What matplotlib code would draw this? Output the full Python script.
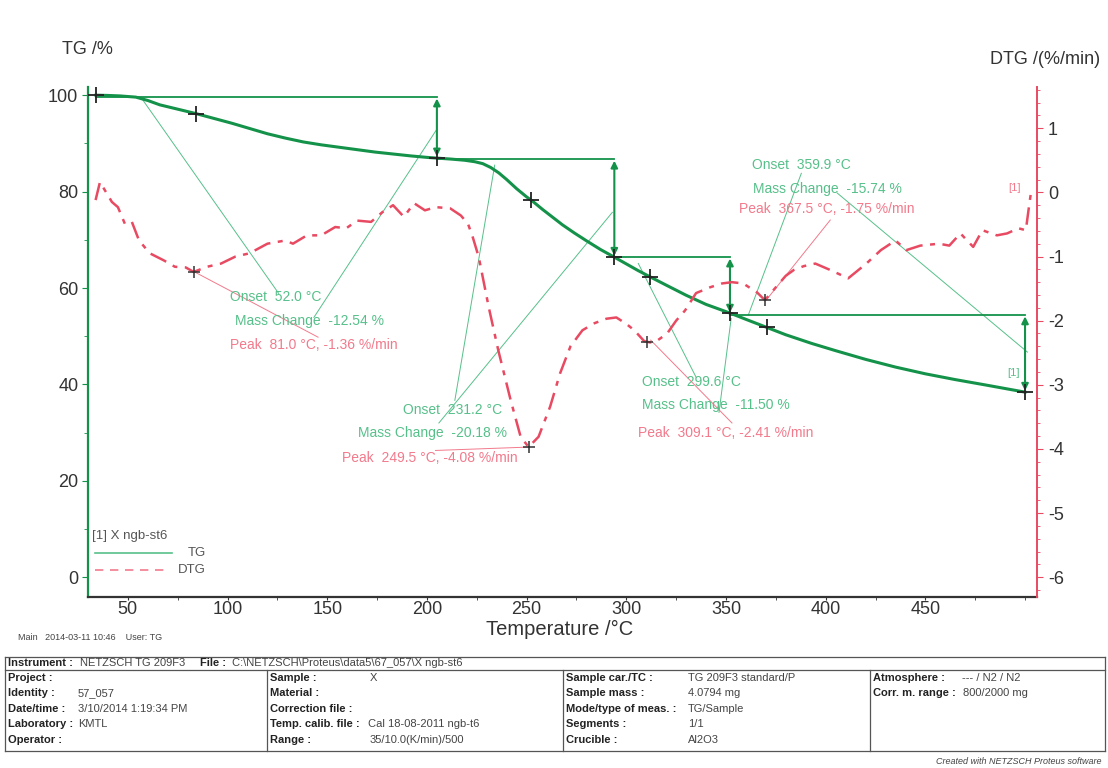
import matplotlib
matplotlib.use("Agg")
import matplotlib.pyplot as plt
from matplotlib.ticker import MultipleLocator
from matplotlib.lines import Line2D

plt.rcParams['font.family'] = ['Liberation Sans', 'DejaVu Sans']
plt.rcParams['axes.unicode_minus'] = False

# ---------------- data ----------------
tg_temp = [34, 40, 46, 54, 60, 66, 75, 84, 93, 102, 111, 120, 129, 138, 147, 156, 165, 174,
           183, 192, 200, 205, 212, 219, 224, 228, 232, 236, 240, 245, 250, 253, 258, 263,
           268, 274, 280, 287, 294, 300, 306, 312, 320, 330, 340, 352, 360, 370, 380, 393,
           405, 420, 435, 450, 465, 480, 492, 500]
tg_val = [100.0, 99.95, 99.85, 99.6, 98.9, 98.0, 97.1, 96.2, 95.2, 94.2, 93.1, 92.0, 91.1,
          90.3, 89.7, 89.2, 88.7, 88.2, 87.8, 87.4, 87.1, 86.95, 86.75, 86.5, 86.2, 85.8,
          85.0, 83.9, 82.5, 80.6, 78.9, 78.0, 76.3, 74.7, 73.1, 71.4, 69.8, 68.0, 66.4,
          65.0, 63.6, 62.3, 60.6, 58.5, 56.6, 54.8, 53.5, 51.9, 50.3, 48.5, 47.0, 45.2,
          43.6, 42.2, 41.0, 39.9, 39.0, 38.4]

dtg_temp = [33.8, 36, 39.5, 42, 45, 48.5, 52, 55.6, 61, 68, 73.6, 79, 83, 89.7, 96.7, 104,
            111, 120, 129, 132.8, 139.8, 147, 154, 159.5, 165, 172, 177.6, 183, 188.4, 193.6,
            199, 204.5, 211.7, 217, 220.6, 223, 226, 231, 235.7, 242, 247, 251, 256, 261.8,
            266.8, 272, 278, 284, 290, 295, 300, 304, 309, 312, 316, 320.5, 325, 329.5, 335,
            342, 348, 353, 358.6, 365.6, 369.5, 375, 380, 384, 389, 394.8, 402.3, 411.3,
            420.4, 427.7, 435, 440.5, 447.5, 456.8, 462, 467.6, 474, 478.6, 485.9, 491,
            496.7, 500.4, 502.2, 503]
dtg_val = [-0.12, 0.16, -0.02, -0.15, -0.23, -0.49, -0.46, -0.75, -0.95, -1.06, -1.16, -1.17,
           -1.24, -1.16, -1.11, -1.0, -0.95, -0.8, -0.75, -0.8, -0.67, -0.67, -0.54, -0.56,
           -0.44, -0.46, -0.31, -0.2, -0.38, -0.17, -0.28, -0.23, -0.25, -0.36, -0.49, -0.7,
           -1.01, -1.79, -2.45, -3.24, -3.81, -3.97, -3.81, -3.34, -2.82, -2.4, -2.15, -2.04,
           -1.97, -1.95, -2.05, -2.15, -2.32, -2.34, -2.3, -2.2, -2.0, -1.84, -1.57, -1.48,
           -1.42, -1.4, -1.42, -1.56, -1.68, -1.48, -1.3, -1.21, -1.15, -1.11, -1.21, -1.34,
           -1.11, -0.9, -0.75, -0.9, -0.83, -0.8, -0.83, -0.64, -0.85, -0.59, -0.67, -0.64,
           -0.56, -0.59, -0.17, 0.0]

# marked TG points (crosses)
tg_mark_temp = [34, 84, 205, 252, 294, 312, 352, 370.5, 500]
tg_mark_val = [100.0, 96.2, 86.95, 78.3, 66.4, 62.3, 54.8, 51.9, 38.4]
# DTG peaks (crosses)
dtg_peak_temp = [83, 251, 310.5, 369.5]
dtg_peak_val = [-1.24, -3.97, -2.34, -1.68]

# mass-change steps
step_temp = [205, 294, 352, 500]
step_start = [34, 205, 294, 352]
step_upper = [99.6, 86.7, 66.4, 54.4]
step_lower = [87.0, 66.4, 54.6, 38.4]

onset_txt = ["Onset  52.0 °C", "Onset  231.2 °C", "Onset  299.6 °C", "Onset  359.9 °C"]
mass_txt = ["Mass Change  -12.54 %", "Mass Change  -20.18 %", "Mass Change  -11.50 %",
            "Mass Change  -15.74 %"]
peak_txt = ["Peak  81.0 °C, -1.36 %/min", "Peak  249.5 °C, -4.08 %/min",
            "Peak  309.1 °C, -2.41 %/min", "Peak  367.5 °C, -1.75 %/min"]

x_ticks = [50, 100, 150, 200, 250, 300, 350, 400, 450]
tg_ticks = [0, 20, 40, 60, 80, 100]
dtg_ticks = [-6, -5, -4, -3, -2, -1, 0, 1]

# ---------------- styles ----------------
GREEN = "#14924a"
LGREEN = "#56c08a"
RED = "#e84a62"
LRED = "#f27a8c"

fig = plt.figure(figsize=(11.08, 7.68), dpi=100)
W, H = 1108, 768
L, R, T, B = 88, 1037, 87, 597
ax1 = fig.add_axes([L / W, 1 - B / H, (R - L) / W, (B - T) / H])
ax2 = ax1.twinx()

xlim = (30, 506)
tg_lim = (-4.1, 101.7)
def tg2dtg(v):
    return -6 + v * 0.07515
ax1.set_xlim(*xlim)
ax1.set_ylim(*tg_lim)
ax2.set_ylim(tg2dtg(tg_lim[0]), tg2dtg(tg_lim[1]))

# curves
ax1.plot(tg_temp, tg_val, color=GREEN, lw=2.2, zorder=5)
ax2.plot(dtg_temp, dtg_val, color=RED, lw=1.8, linestyle=(0, (7, 3, 2, 3)), zorder=5)

# crosses
ax1.plot(tg_mark_temp, tg_mark_val, '+', color='#222222', ms=11, mew=1.3, zorder=7)
ax2.plot(dtg_peak_temp, dtg_peak_val, '+', color='#333333', ms=9, mew=1.1, zorder=7)

# steps
for i in range(4):
    ax1.plot([step_start[i], step_temp[i]], [step_upper[i], step_upper[i]], color=GREEN,
             lw=1.3, zorder=4)
    ax1.annotate("", xy=(step_temp[i], step_lower[i]), xytext=(step_temp[i], step_upper[i]),
                 arrowprops=dict(arrowstyle='<|-|>', color=GREEN, lw=1.5,
                                 mutation_scale=10, shrinkA=1, shrinkB=1), zorder=6)

# leader lines (T, TG)
green_leaders = [((57.5, 99.0), (125.6, 58.9)), ((204.6, 92.7), (143.3, 53.9)),
                 ((234, 85.5), (214, 36.7)), ((293, 75.7), (206, 32.0)),
                 ((306, 65.1), (335, 41.5)), ((352.6, 53.7), (346.5, 34.2)),
                 ((387.8, 83.8), (361.2, 54.4)), ((405.8, 79.7), (501.2, 46.7))]
red_leaders = [((83.6, 63.3), (145.4, 49.8)), ((251, 27.0), (204.3, 26.3)),
               ((312.2, 49.2), (353, 32.0)), ((402.3, 74.1), (370.2, 57.5))]
for (a, b) in green_leaders:
    ax1.plot([a[0], b[0]], [a[1], b[1]], color=LGREEN, lw=0.7, zorder=3)
for (a, b) in red_leaders:
    ax1.plot([a[0], b[0]], [a[1], b[1]], color=LRED, lw=0.7, zorder=3)

# annotation texts (T, TG)
onset_pos = [(101.2, 58.1), (188, 34.6), (308, 40.5), (363.2, 85.5)]
mass_pos = [(103.7, 53.1), (165.4, 29.9), (308, 35.7), (363.7, 80.5)]
peak_pos = [(101.2, 48.1), (157.4, 24.7), (306, 29.9), (356.6, 76.3)]
for i in range(4):
    ax1.text(*onset_pos[i], onset_txt[i], color=LGREEN, fontsize=10, va='center', zorder=8)
    ax1.text(*mass_pos[i], mass_txt[i], color=LGREEN, fontsize=10, va='center', zorder=8)
    ax1.text(*peak_pos[i], peak_txt[i], color=LRED, fontsize=10, va='center', zorder=8)
ax1.text(497.7, 80.8, "[1]", color=LRED, fontsize=8, ha='right', va='center')
ax1.text(497.5, 42.3, "[1]", color=LGREEN, fontsize=8, ha='right', va='center')

# axes styling
for s in ['top', 'right']:
    ax1.spines[s].set_visible(False)
ax1.spines['left'].set_color(GREEN)
ax1.spines['left'].set_linewidth(1.6)
ax1.spines['bottom'].set_color('#333333')
ax1.spines['bottom'].set_linewidth(1.6)
for s in ['top', 'left', 'bottom']:
    ax2.spines[s].set_visible(False)
ax2.spines['right'].set_color(RED)
ax2.spines['right'].set_linewidth(1.4)

ax1.set_xticks(x_ticks)
ax1.xaxis.set_minor_locator(MultipleLocator(25))
ax1.set_yticks(tg_ticks)
ax1.yaxis.set_minor_locator(MultipleLocator(10))
ax2.set_yticks(dtg_ticks)
ax2.yaxis.set_minor_locator(MultipleLocator(0.2))
ax1.tick_params(axis='x', labelsize=13, colors='#333333', length=2, pad=1)
ax1.tick_params(axis='x', which='minor', length=2, colors='#333333')
ax1.tick_params(axis='y', labelsize=13, colors='#333333', length=4, pad=3)
ax1.tick_params(axis='y', which='minor', length=3, color=GREEN)
ax1.tick_params(axis='y', which='major', color=GREEN)
ax2.tick_params(axis='y', labelsize=13, labelcolor='#333333', color=RED, length=4, pad=4)
ax2.tick_params(axis='y', which='minor', length=2.5, color=RED)

fig.text(62 / W, 1 - 50 / H, "TG /%", fontsize=13, color='#333333', va='center')
fig.text(1100 / W, 1 - 60 / H, "DTG /(%/min)", fontsize=13, color='#333333', va='center',
         ha='right')
fig.text(560 / W, 1 - 629 / H, "Temperature /°C", fontsize=14.5, color='#333333',
         va='center', ha='center')

# legend (axes coords)
def axc(x, y):
    return ((x - L) / (R - L), (B - y) / (B - T))
ax1.text(*axc(92, 536), "[1] X ngb-st6", transform=ax1.transAxes, fontsize=9.5,
         color='#555555', va='center')
x0, y0 = axc(95, 553)
x1, _ = axc(172, 553)
ax1.add_line(Line2D([x0, x1], [y0, y0], transform=ax1.transAxes, color=LGREEN, lw=1.2))
ax1.text(*axc(188, 553), "TG", transform=ax1.transAxes, fontsize=9.5, color='#555555',
         va='center')
x0, y0 = axc(95, 570)
x1, _ = axc(168, 570)
ax1.add_line(Line2D([x0, x1], [y0, y0], transform=ax1.transAxes, color=LRED, lw=1.2,
                    linestyle=(0, (5, 4))))
ax1.text(*axc(178, 570), "DTG", transform=ax1.transAxes, fontsize=9.5, color='#555555',
         va='center')

fig.text(18 / W, 1 - 637 / H, "Main   2014-03-11 10:46    User: TG", fontsize=6.5,
         color='#444444', va='center')

# ---------------- info table ----------------
def fx(x):
    return x / W
def fy(y):
    return 1 - y / H
line_kw = dict(color='#555555', lw=0.9, transform=fig.transFigure)
fig.add_artist(Line2D([fx(5), fx(1105)], [fy(657), fy(657)], **line_kw))
fig.add_artist(Line2D([fx(5), fx(1105)], [fy(670), fy(670)], **line_kw))
fig.add_artist(Line2D([fx(5), fx(1105)], [fy(751), fy(751)], **line_kw))
fig.add_artist(Line2D([fx(5), fx(5)], [fy(657), fy(751)], **line_kw))
fig.add_artist(Line2D([fx(1105), fx(1105)], [fy(657), fy(751)], **line_kw))
for xv in [267, 563, 870]:
    fig.add_artist(Line2D([fx(xv), fx(xv)], [fy(670), fy(751)], **line_kw))

tfs = 8
fig.text(fx(8), fy(663.5), "Instrument :", fontsize=tfs, weight='bold', va='center',
         color='#222222')
fig.text(fx(80), fy(663.5), "NETZSCH TG 209F3", fontsize=tfs, va='center', color='#444444')
fig.text(fx(200), fy(663.5), "File :", fontsize=tfs, weight='bold', va='center',
         color='#222222')
fig.text(fx(232), fy(663.5), "C:\\NETZSCH\\Proteus\\data5\\67_057\\X ngb-st6", fontsize=tfs,
         va='center', color='#444444')

rows_y = [678, 693, 708.5, 724, 740]
col_labels = [
    (8, [78] * 5, ["Project :", "Identity :", "Date/time :", "Laboratory :", "Operator :"],
     ["", "57_057", "3/10/2014 1:19:34 PM", "KMTL", ""]),
    (270, [370, 370, 370, 368, 370],
     ["Sample :", "Material :", "Correction file :", "Temp. calib. file :", "Range :"],
     ["X", "", "", "Cal 18-08-2011 ngb-t6", "35/10.0(K/min)/500"]),
    (566, [688] * 5, ["Sample car./TC :", "Sample mass :", "Mode/type of meas. :",
                      "Segments :", "Crucible :"],
     ["TG 209F3 standard/P", "4.0794 mg", "TG/Sample", "1/1", "Al2O3"]),
    (873, [962, 963, 0, 0, 0], ["Atmosphere :", "Corr. m. range :", "", "", ""],
     ["--- / N2 / N2", "800/2000 mg", "", "", ""]),
]
for lx, vxs, labs, vals in col_labels:
    for yy, vx, lab, val in zip(rows_y, vxs, labs, vals):
        if lab:
            fig.text(fx(lx), fy(yy), lab, fontsize=tfs, weight='bold', va='center',
                     color='#222222')
        if val:
            fig.text(fx(vx), fy(yy), val, fontsize=tfs, va='center', color='#444444')

fig.text(fx(1102), fy(761), "Created with NETZSCH Proteus software", fontsize=6.5,
         style='italic', ha='right', va='center', color='#444444')

fig.savefig("out.png", dpi=100)
